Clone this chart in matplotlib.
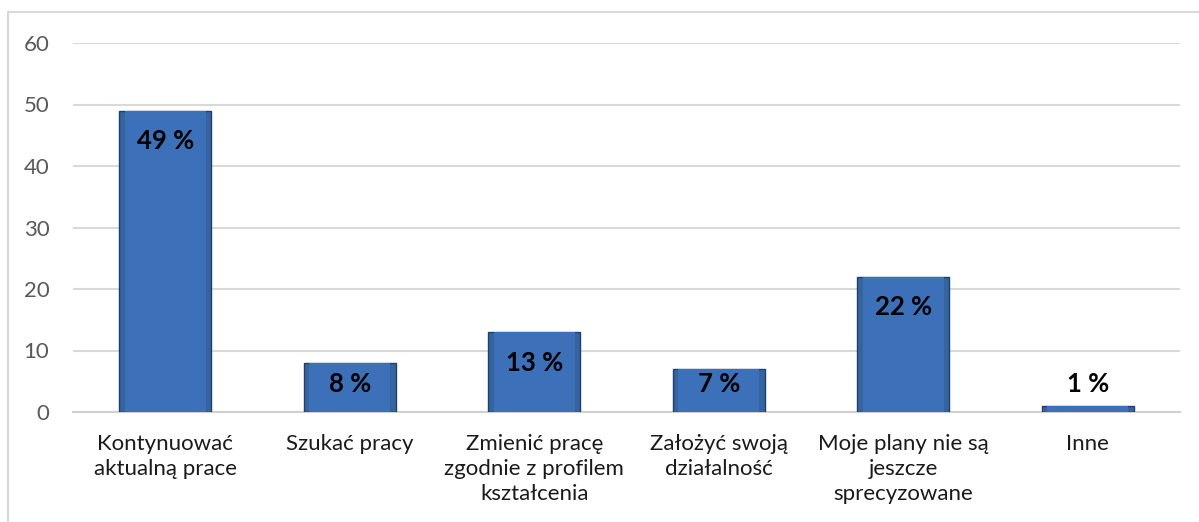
import matplotlib
matplotlib.use("Agg")
import matplotlib.pyplot as plt
from matplotlib.patches import Rectangle

categories = ["Kontynuować\naktualną prace", "Szukać pracy",
              "Zmienić pracę\nzgodnie z profilem\nkształcenia",
              "Założyć swoją\ndziałalność", "Moje plany nie są\njeszcze\nsprecyzowane",
              "Inne"]
values = [49, 8, 13, 7, 22, 1]
yticks = [0, 10, 20, 30, 40, 50, 60]

plt.rcParams['font.family'] = ['Lato', 'DejaVu Sans']

fig = plt.figure(figsize=(11.99, 5.22), dpi=100)
ax = fig.add_axes([73/1199, 1 - 412/522, (1180-73)/1199, (412-43)/522])

# figure border
fig.patches.append(Rectangle((8/1199, -0.1), 1.2, 1 - 12/522 + 0.1,
                             transform=fig.transFigure, fill=False,
                             edgecolor='#D9D9D9', linewidth=1.5))

x = list(range(len(categories)))
bars = ax.bar(x, values, width=0.5, color='#35649F', edgecolor='#1F3F6E',
              linewidth=1.0, zorder=3)
# soft highlight to mimic bevel
for b in bars:
    bx, by = b.get_x(), b.get_y()
    w, h = b.get_width(), b.get_height()
    ax.add_patch(Rectangle((bx + w*0.06, by), w*0.88, h, facecolor='#3C71BA',
                           edgecolor='none', zorder=3.5))

for xi, v in zip(x, values):
    txt = f"{v} %"
    if v >= 10:
        ax.annotate(txt, (xi, v), xytext=(0, -22), textcoords='offset points',
                    ha='center', va='center', fontsize=18.5, fontweight='bold',
                    color='black', zorder=5)
    else:
        ax.text(xi, 4.5, txt, ha='center', va='center', fontsize=18.5,
                fontweight='bold', color='black', zorder=5)

ax.set_xlim(-0.5, len(categories) - 0.5)
ax.set_ylim(0, 60)
ax.set_yticks(yticks)
ax.set_yticklabels([str(t) for t in yticks], fontsize=16, color='#595959')
ax.set_xticks(x)
ax.set_xticklabels(categories, fontsize=16, color='#1a1a1a', linespacing=1.3,
                   va='top')
ax.tick_params(axis='both', length=0)
ax.tick_params(axis='y', pad=17)
ax.tick_params(axis='x', pad=16)
ax.grid(axis='y', color='#D9D9D9', linewidth=1.5, zorder=0)
for s in ['top', 'right', 'left']:
    ax.spines[s].set_visible(False)
ax.spines['bottom'].set_color('#D0D0D0')
ax.spines['bottom'].set_linewidth(1.5)

fig.savefig("out.png", dpi=100)
